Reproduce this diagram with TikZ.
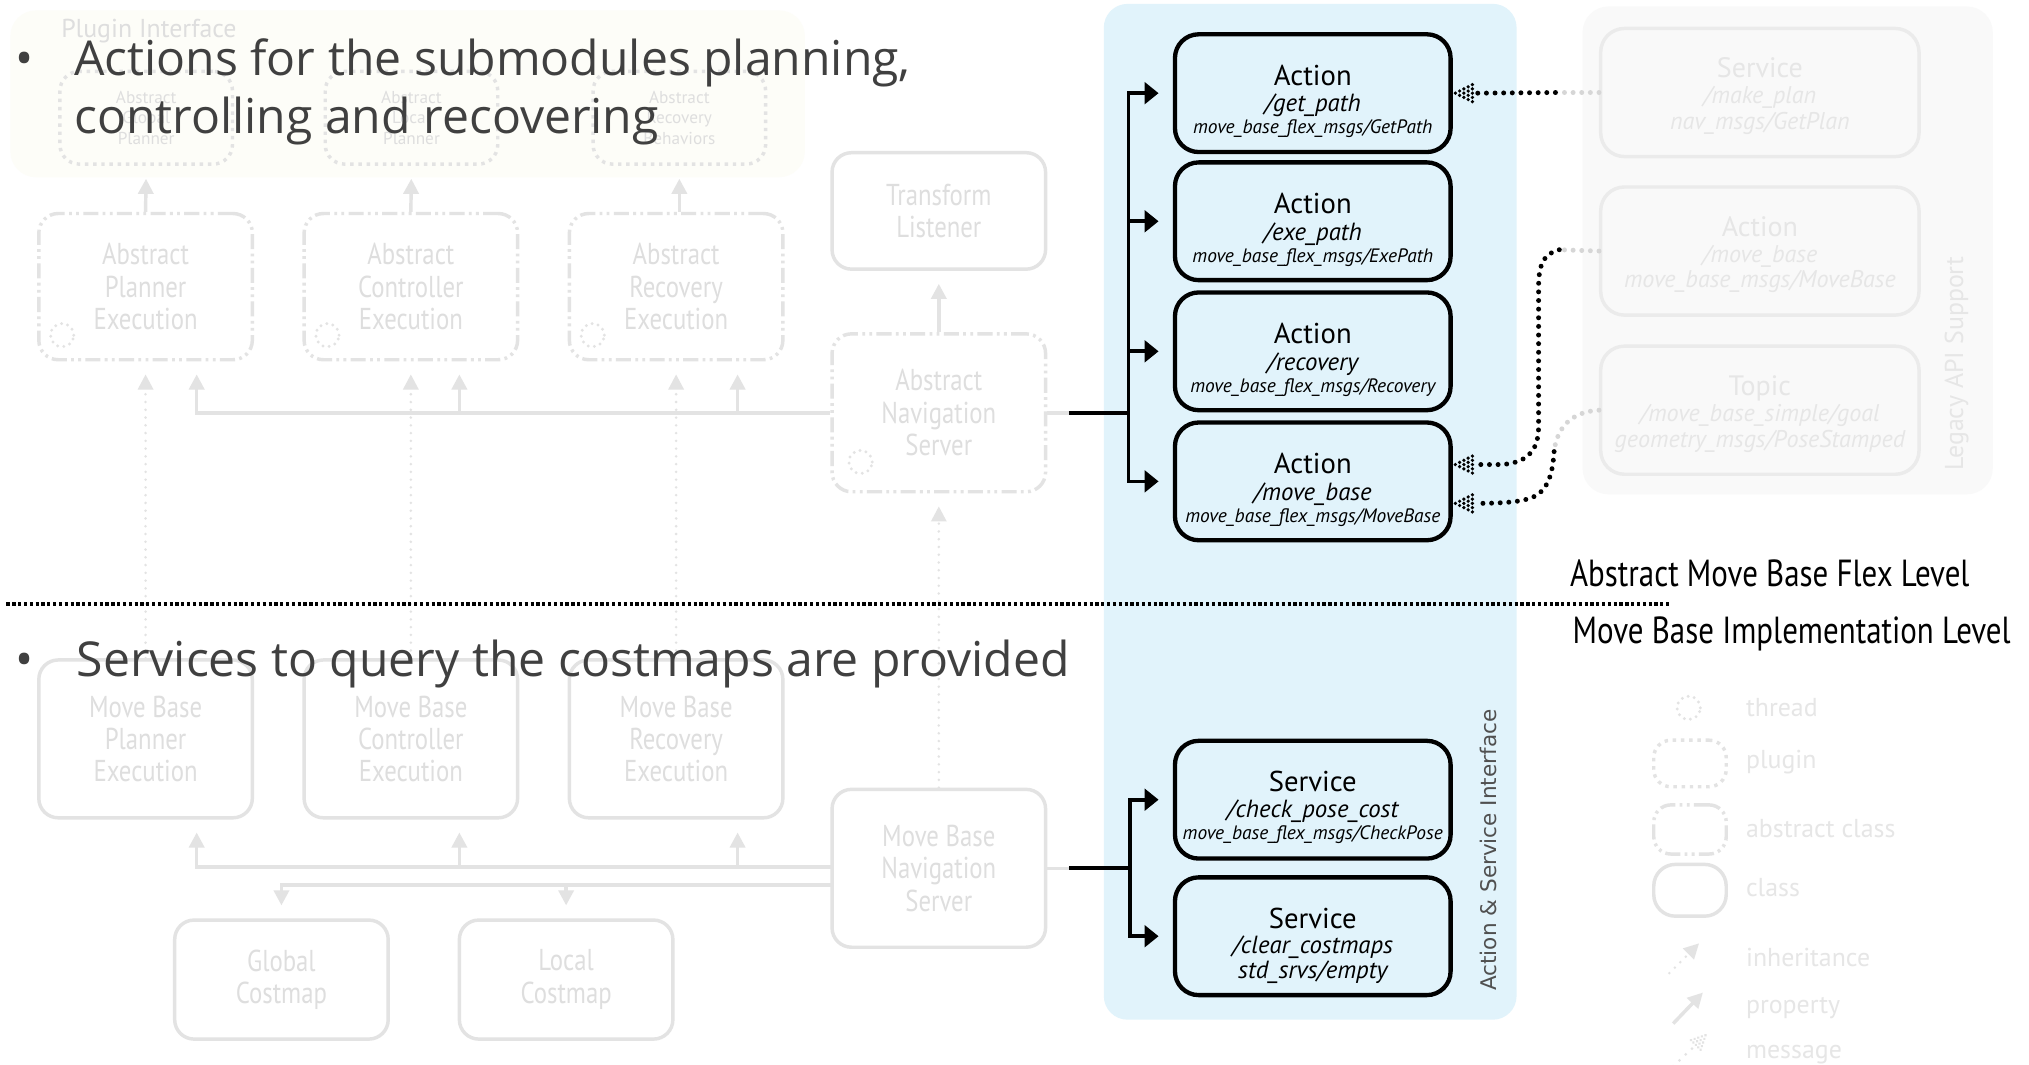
\documentclass[tikz,border=0pt]{standalone}
\usepackage{fontspec}
\setmainfont{PT Sans}
\newfontfamily\slidefont{Open Sans}
\newfontfamily\cfont[FakeStretch=0.82]{PT Sans}
\newfontfamily\vfont{DejaVu Sans}
\usetikzlibrary{arrows.meta,calc}
\definecolor{faint}{HTML}{E3E3E3}
\definecolor{ftext}{HTML}{DEDEDE}
\definecolor{lfaint}{HTML}{EBEBEB}
\definecolor{ltext}{HTML}{E6E6E6}
\definecolor{panelblue}{HTML}{E1F3FB}
\definecolor{plugpanel}{HTML}{FDFDF8}
\definecolor{legpanel}{HTML}{F9F9F9}
\definecolor{slidetext}{HTML}{404040}
\definecolor{vlabel}{HTML}{505050}
\definecolor{greydot}{HTML}{D6D6D6}
\tikzset{
  cls/.style={draw=faint, line width=1.6pt, rounded corners=9pt, minimum width=99pt, inner sep=0pt,
    text=ftext, align=center, font=\cfont\fontsize{14}{15}\selectfont},
  abscls/.style={cls, dash pattern=on 7pt off 2pt on 1.3pt off 2pt on 1.3pt off 2pt},
  plugbox/.style={cls, dash pattern=on 1.6pt off 2.2pt, minimum width=80pt, minimum height=43pt,
    font=\fontsize{8}{9.6}\selectfont},
  actbox/.style={draw=black, line width=2pt, rounded corners=11pt, fill=panelblue,
    minimum width=127.8pt, minimum height=54.6pt, inner sep=0pt},
  legbox/.style={draw=lfaint, line width=1.6pt, rounded corners=11pt,
    minimum width=147.6pt, minimum height=59.4pt, inner sep=0pt},
  fline/.style={draw=faint, line width=1.6pt},
  farrow/.style={fline, -{Triangle[length=7pt,width=7pt]}, shorten >=6pt},
  fdotarrow/.style={draw=faint, line width=1.3pt, dash pattern=on 0pt off 3.6pt, line cap=round,
    -{Triangle[length=7pt,width=7pt,line cap=butt]}, shorten >=6pt},
  bline/.style={draw=black, line width=1.7pt},
  barrow/.style={bline, -{Triangle[length=6.5pt,width=10pt]}, shorten >=6.6pt},
  msgline/.style={draw=black, line width=2.3pt, dash pattern=on 0pt off 4pt, line cap=round},
  gmsgline/.style={msgline, draw=greydot},
  threaddots/.style={draw=faint, line width=1.5pt, dash pattern=on 0pt off 2.9pt, line cap=round},
  msghead/.pic={\foreach \i in {0,...,4}{\foreach \j in {0,...,\i}{\fill (\i*3.3,\j*3.3-\i*1.65) circle (0.85pt);}}},
  lvltext/.style={anchor=base west, inner sep=0pt, font=\cfont\fontsize{17.5}{18}\selectfont, text=black},
  legtext/.style={anchor=west, inner sep=0pt, text=ltext, font=\fontsize{12}{13}\selectfont},
  slide/.style={anchor=base west, inner sep=0pt, text=slidetext, font=\slidefont\fontsize{22.3}{27}\selectfont},
}
% #1 name, #2 centre, #3-#5 lines, #6 font of line 3, #7 offset line 2, #8 offset line 3
\newcommand\ifbox[8]{%
  \node[actbox] (#1) at (#2) {};
  \node[anchor=base, inner sep=0pt, font=\fontsize{13.3}{14}\selectfont] (#1-a) at ($(#1.center)+(0,-6)$) {#3};
  \node[anchor=base, inner sep=0pt, font=\itshape\fontsize{11.5}{13}\selectfont] (#1-b) at ($(#1.center)+(0,#7)$) {#4};
  \node[anchor=base, inner sep=0pt, font=#6] (#1-c) at ($(#1.center)+(0,#8)$) {#5};
}
\newcommand\lgbox[5]{%
  \node[legbox] (#1) at (#2) {};
  \node[anchor=base, inner sep=0pt, text=ltext, font=\fontsize{13}{14}\selectfont] (#1-a) at ($(#1.center)+(0,-11.5)$) {#3};
  \node[anchor=base, inner sep=0pt, text=ltext, font=\itshape\fontsize{11.2}{13}\selectfont] (#1-b) at ($(#1.center)+(0,8.5)$) {#4};
  \node[anchor=base, inner sep=0pt, text=ltext, font=\itshape\fontsize{11.2}{13}\selectfont] (#1-c) at ($(#1.center)+(0,28.5)$) {#5};
}
\begin{document}
\begin{tikzpicture}[x=0.6pt,y=-0.6pt]
\useasboundingbox (0,0) rectangle (1568,823);
\fill[white] (0,0) rectangle (1568,823);

% panels
\fill[plugpanel, rounded corners=12pt] (8,8) rectangle (622,137);
\node[anchor=west, inner sep=0pt, text=ftext, font=\fontsize{12}{13}\selectfont] (plugtitle) at (47,24) {Plugin Interface};
\fill[panelblue, rounded corners=11pt] (853,3) rectangle (1172,788);
\fill[legpanel, rounded corners=12pt] (1223,5) rectangle (1540,382);

% plugin boxes
\node[plugbox] (pgp) at (113,91) {Abstract\\Global\\Planner};
\node[plugbox] (plp) at (318,91) {Abstract\\Local\\Planner};
\node[plugbox] (prb) at (525,91) {Abstract\\Recovery\\Behaviors};

% abstract execution boxes
\node[abscls, minimum height=67.8pt] (ape) at (112.5,221.5) {Abstract\\Planner\\Execution};
\node[abscls, minimum height=67.8pt] (ace) at (317.5,221.5) {Abstract\\Controller\\Execution};
\node[abscls, minimum height=67.8pt] (are) at (522.5,221.5) {Abstract\\Recovery\\Execution};
\node[cls, minimum height=54pt] (tl) at (725.5,163) {Transform\\Listener};
\node[abscls, minimum height=73.2pt] (ans) at (725.5,319) {Abstract\\Navigation\\Server};

% thread icons
\foreach \p in {(48,259),(253,259),(458,259),(665,357)}{\draw[threaddots] \p circle (5.4pt);}

% move base boxes
\node[cls, minimum height=73.2pt] (mpe) at (112.5,571) {Move Base\\Planner\\Execution};
\node[cls, minimum height=73.2pt] (mce) at (317.5,571) {Move Base\\Controller\\Execution};
\node[cls, minimum height=73.2pt] (mre) at (522.5,571) {Move Base\\Recovery\\Execution};
\node[cls, minimum height=73.2pt] (mbns) at (725.5,671) {Move Base\\Navigation\\Server};
\node[cls, minimum height=55.2pt] (gcm) at (217.5,757) {Global\\Costmap};
\node[cls, minimum height=55.2pt] (lcm) at (437.5,757) {Local\\Costmap};

% x positions
\coordinate (xa) at (152,0);
\coordinate (xb) at (355,0);
\coordinate (xc) at (570,0);

% faint connectors
\draw[farrow] (ape.north) -- (pgp.south);
\draw[farrow] (ace.north) -- (plp.south);
\draw[farrow] (are.north -| prb.south) -- (prb.south);
\draw[farrow] (ans.north) -- (tl.south);
\draw[farrow] (ans.west) -| (ape.south -| xa);
\draw[farrow] (ans.west -| xb) -- (ace.south -| xb);
\draw[farrow] (ans.west -| xc) -- (are.south -| xc);
\draw[fdotarrow] (mpe.north) -- (ape.south);
\draw[fdotarrow] (mce.north) -- (ace.south);
\draw[fdotarrow] (mre.north) -- (are.south);
\draw[fdotarrow] (mbns.north) -- (ans.south);
\coordinate (mb1) at (643,670);
\coordinate (mb2) at (643,684);
\draw[farrow] (mb1) -| (mpe.south -| xa);
\draw[farrow] (mb1 -| xb) -- (mce.south -| xb);
\draw[farrow] (mb1 -| xc) -- (mre.south -| xc);
\draw[farrow] (mb2) -| (gcm.north);
\draw[farrow] (mb2 -| lcm.north) -- (lcm.north);

% interface boxes
\ifbox{act1}{1014.5,72}{Action}{/get\_path}{move\_base\_flex\_msgs/GetPath}{\itshape\fontsize{9}{10}\selectfont}{14.5}{31.5}
\ifbox{act2}{1014.5,171}{Action}{/exe\_path}{move\_base\_flex\_msgs/ExePath}{\itshape\fontsize{9}{10}\selectfont}{14.5}{31.5}
\ifbox{act3}{1014.5,271.5}{Action}{/recovery}{move\_base\_flex\_msgs/Recovery}{\itshape\fontsize{9}{10}\selectfont}{14.5}{31.5}
\ifbox{act4}{1014.5,372}{Action}{/move\_base}{move\_base\_flex\_msgs/MoveBase}{\itshape\fontsize{9}{10}\selectfont}{14.5}{31.5}
\ifbox{srv1}{1014.5,618}{Service}{/check\_pose\_cost}{move\_base\_flex\_msgs/CheckPose}{\itshape\fontsize{9}{10}\selectfont}{13.5}{31}
\ifbox{srv2}{1014.5,723.5}{Service}{/clear\_costmaps}{std\_srvs/empty}{\itshape\fontsize{11.5}{13}\selectfont}{13.7}{32.5}

% bold connectors
\coordinate (a0) at (826,319);
\coordinate (t1) at (872,319);
\draw[fline] (ans.east) -- (a0);
\draw[bline] (a0) -- (t1);
\draw[barrow] (t1) |- (act1.west);
\draw[barrow] (t1) |- (act2.west);
\draw[barrow] (t1) |- (act3.west);
\draw[barrow] (t1) |- (act4.west);
\coordinate (s0) at (826,671);
\coordinate (t2) at (873,671);
\draw[fline] (mbns.east) -- (s0);
\draw[bline] (s0) -- (t2);
\draw[barrow] (t2) |- (srv1.west);
\draw[barrow] (t2) |- (srv2.west);

\node[rotate=90, inner sep=0pt, text=vlabel, font=\vfont\fontsize{10}{11}\selectfont] (asi) at (1150,657) {Action \& Service Interface};

% legacy boxes
\lgbox{lsrv}{1360,71.5}{Service}{/make\_plan}{nav\_msgs/GetPlan}
\lgbox{lact}{1360,194}{Action}{/move\_base}{move\_base\_msgs/MoveBase}
\lgbox{ltop}{1360,317}{Topic}{/move\_base\_simple/goal}{geometry\_msgs/PoseStamped}
\node[rotate=90, inner sep=0pt, text=ltext, font=\fontsize{12}{13}\selectfont] (lapi) at (1512,281) {Legacy API Support};

% message connectors
\coordinate (m1) at (1202,71.5);
\coordinate (m1e) at ($(act1.east)+(17,0)$);
\draw[gmsgline] (lsrv.west) -- (m1);
\draw[msgline] (m1) -- (m1e);
\pic at ($(act1.east)+(2,0)$) {msghead};
\coordinate (m2) at (1205,193);
\coordinate (m2e) at ($(act4.east)+(17,-13)$);
\draw[gmsgline] (lact.west) -- (m2);
\draw[msgline] (m2) .. controls (1192,196) and (1189,206) .. (1189,222) -- (1189,330)
  .. controls (1189,350) and (1178,358) .. (1160,359) -- (m2e);
\pic at ($(act4.east)+(2,-13)$) {msghead};
\coordinate (m3) at (1201,349);
\coordinate (m3e) at ($(act4.east)+(17,17)$);
\draw[gmsgline] (ltop.west) .. controls (1215,318) and (1203,330) .. (m3);
\draw[msgline] (m3) .. controls (1200,362) and (1198,378) .. (1185,384) .. controls (1178,387) and (1168,389) .. (m3e);
\pic at ($(act4.east)+(2,17)$) {msghead};

% level line and labels
\coordinate (lv1) at (5,467);
\coordinate (lv2) at (1290,467);
\draw[black, line width=1.8pt, dash pattern=on 1.5pt off 1.2pt] (lv1) -- (lv2);
\node[lvltext] (lvA) at (1213,453) {Abstract Move Base Flex Level};
\node[lvltext] (lvB) at (1215,497) {Move Base Implementation Level};

% legend
\draw[threaddots] (1305,547) circle (5.4pt);
\node[legtext] (lg1) at (1349,547) {thread};
\node[plugbox, minimum width=33.6pt, minimum height=21.6pt, rounded corners=8pt] (lgp) at (1306,590) {};
\node[legtext] (lg2) at (1349,589) {plugin};
\node[abscls, minimum width=33.6pt, minimum height=22.8pt, rounded corners=8pt] (lga) at (1306,641) {};
\node[legtext] (lg3) at (1349,640) {abstract class};
\node[cls, minimum width=33.6pt, minimum height=24pt, rounded corners=10pt] (lgc) at (1306,688) {};
\node[legtext] (lg4) at (1349,686) {class};
\coordinate (ih1) at (1290,752);
\coordinate (ih2) at (1313,729);
\draw[fdotarrow, shorten >=0pt] (ih1) -- (ih2);
\node[legtext] (lg5) at (1349,740) {inheritance};
\coordinate (pr1) at (1293,791);
\coordinate (pr2) at (1316,767);
\draw[farrow, shorten >=0pt] (pr1) -- (pr2);
\node[legtext] (lg6) at (1349,779) {property};
\coordinate (ms1) at (1293,824);
\coordinate (ms2) at (1310,808);
\draw[gmsgline, draw=faint, line width=1.4pt] (ms1) -- (ms2);
\begin{scope}[faint]
\pic[rotate=225, scale=0.8] at (1318,800) {msghead};
\end{scope}
\node[legtext] (lg7) at (1349,815) {message};

% slide bullets
\node[slide] (b1) at (12,58) {•};
\node[slide] (t1a) at (57,58) {Actions for the submodules planning,};
\node[slide] (t1b) at (57,103) {controlling and recovering};
\node[slide] (b2) at (12,523) {•};
\node[slide] (t2a) at (59,523) {Services to query the costmaps are provided};
\end{tikzpicture}
\end{document}
